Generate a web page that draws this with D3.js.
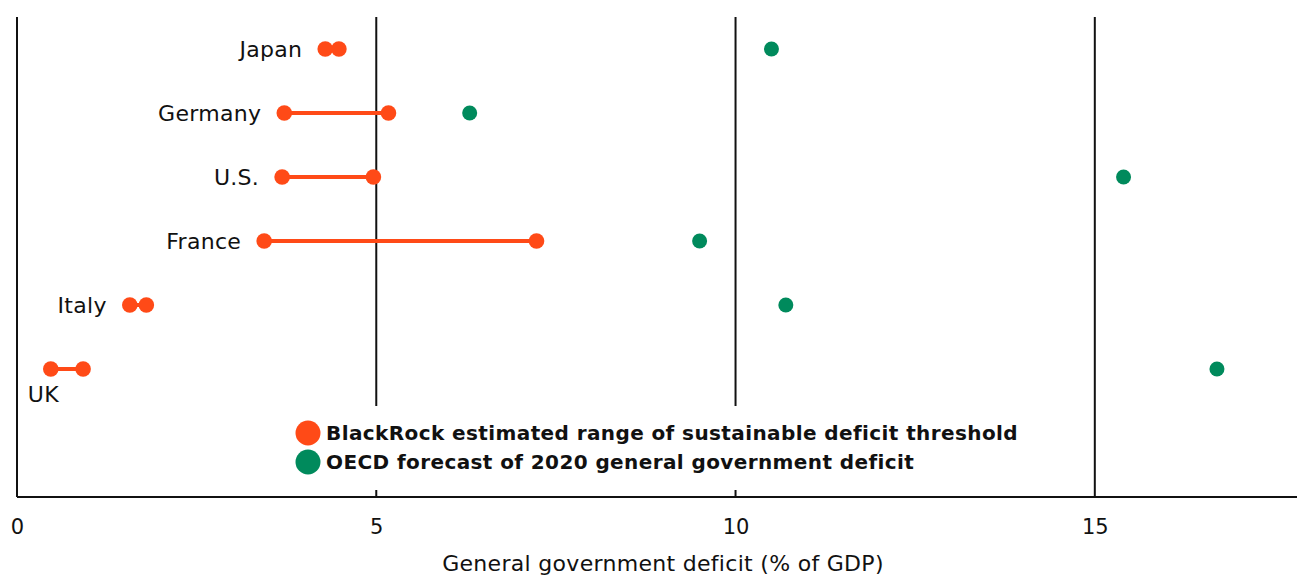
<!DOCTYPE html>
<html>
<head>
<meta charset="utf-8">
<script src="https://cdn.jsdelivr.net/npm/d3@7"></script>
<style>
  html, body { margin: 0; padding: 0; background: #fff; }
  svg { display: block; font-family: "DejaVu Sans", "Noto Sans", sans-serif; }
</style>
</head>
<body>
<svg id="chart" width="1297" height="576"></svg>
<script>
// ---- data ----
const countries = ["Japan", "Germany", "U.S.", "France", "Italy", "UK"];
const blackrockLow = [4.29, 3.72, 3.69, 3.44, 1.57, 0.47];
const blackrockHigh = [4.48, 5.17, 4.96, 7.23, 1.80, 0.92];
const oecdForecast = [10.5, 6.3, 15.4, 9.5, 10.7, 16.7];
const xTicks = [0, 5, 10, 15];
const legendLabels = [
  "BlackRock estimated range of sustainable deficit threshold",
  "OECD forecast of 2020 general government deficit"
];
const xTitle = "General government deficit (% of GDP)";

// ---- layout ----
const ORANGE = "#ff4a17";
const GREEN = "#008a5c";
const FONT = "DejaVu Sans, Noto Sans, sans-serif";
const plotL = 17, plotR = 1296, plotT = 17, plotB = 497;

const svg = d3.select("#chart");
const x = d3.scaleLinear().domain([0, 17.8]).range([plotL, plotR]);
const y = d3.scaleBand().domain(countries).range([plotT, plotT + 64 * countries.length]).padding(0);
const cy = c => y(c) + y.bandwidth() / 2;

// gridlines at ticks (excluding 0)
svg.append("g").selectAll("line")
  .data(xTicks.filter(t => t > 0))
  .join("line")
  .attr("x1", d => x(d)).attr("x2", d => x(d))
  .attr("y1", plotT).attr("y2", plotB)
  .attr("stroke", "#111").attr("stroke-width", 2);

// left axis line
svg.append("line")
  .attr("x1", plotL).attr("x2", plotL).attr("y1", plotT).attr("y2", plotB)
  .attr("stroke", "#111").attr("stroke-width", 2);

// bottom axis
const xAxis = d3.axisBottom(x).tickValues(xTicks).tickSize(0).tickPadding(22).tickFormat(d3.format("d"));
const gx = svg.append("g").attr("transform", `translate(0,${plotB})`).call(xAxis);
gx.select(".domain").attr("stroke", "#111").attr("stroke-width", 2)
  .attr("d", `M${plotL},0H${plotR + 1}`);
gx.selectAll("text").attr("font-size", 21).attr("fill", "#111")
  .attr("font-family", FONT);

// axis title
svg.append("text")
  .attr("x", 663).attr("y", 571)
  .attr("text-anchor", "middle")
  .attr("font-size", 22).attr("letter-spacing", 0.3).attr("fill", "#111")
  .text(xTitle);

// legend box (white background hiding gridlines)
const legend = svg.append("g");
legend.append("rect")
  .attr("x", 290).attr("y", 406).attr("width", 740).attr("height", 84)
  .attr("fill", "#fff");
const legendColors = [ORANGE, GREEN];
legendLabels.forEach((lab, i) => {
  const ly = 433 + i * 29;
  legend.append("circle").attr("cx", 308).attr("cy", ly).attr("r", 12.5).attr("fill", legendColors[i]);
  legend.append("text").attr("x", 326).attr("y", ly + 7)
    .attr("font-size", 20).attr("font-weight", 700).attr("fill", "#111")
    .attr("letter-spacing", 0.4)
    .text(lab);
});

// data rows
const rows = countries.map((c, i) => ({
  c, lo: blackrockLow[i], hi: blackrockHigh[i], oecd: oecdForecast[i]
}));

const g = svg.append("g");
g.selectAll("line.range").data(rows).join("line")
  .attr("class", "range")
  .attr("x1", d => x(d.lo)).attr("x2", d => x(d.hi))
  .attr("y1", d => cy(d.c)).attr("y2", d => cy(d.c))
  .attr("stroke", ORANGE).attr("stroke-width", 4);

g.selectAll("circle.lo").data(rows).join("circle")
  .attr("class", "lo").attr("cx", d => x(d.lo)).attr("cy", d => cy(d.c))
  .attr("r", 7.8).attr("fill", ORANGE);
g.selectAll("circle.hi").data(rows).join("circle")
  .attr("class", "hi").attr("cx", d => x(d.hi)).attr("cy", d => cy(d.c))
  .attr("r", 7.8).attr("fill", ORANGE);
g.selectAll("circle.oecd").data(rows).join("circle")
  .attr("class", "oecd").attr("cx", d => x(d.oecd)).attr("cy", d => cy(d.c))
  .attr("r", 7.5).attr("fill", GREEN);

// country labels
g.selectAll("text.lab").data(rows).join("text")
  .attr("class", "lab")
  .attr("x", d => d.c === "UK" ? x(d.lo) - 23 : x(d.lo) - 23)
  .attr("y", d => d.c === "UK" ? cy(d.c) + 33 : cy(d.c) + 8)
  .attr("text-anchor", d => d.c === "UK" ? "start" : "end")
  .attr("font-size", 22).attr("letter-spacing", 0.3).attr("fill", "#111")
  .text(d => d.c);
</script>
</body>
</html>
